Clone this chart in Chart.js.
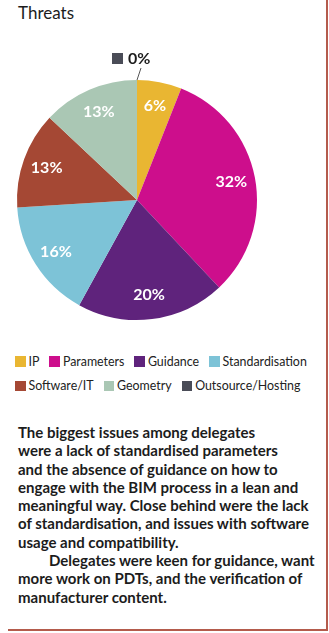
<!DOCTYPE html>
<html>
<head>
<meta charset="utf-8">
<title>Threats</title>
<script src="https://cdn.jsdelivr.net/npm/chart.js@4.4.0/dist/chart.umd.min.js"></script>
<style>
  body { margin: 0; background: #fff; }
  .panel { position: relative; width: 329px; height: 633px; overflow: hidden; font-family: Lato, 'Open Sans', sans-serif; color: #1c1c1c; }
  .edge-right { position: absolute; left: 326px; top: 0; width: 2px; height: 631px; background: #b45b4c; }
  .edge-bottom { position: absolute; left: 8px; top: 629px; width: 320px; height: 2px; background: #b45b4c; }
  .title { position: absolute; left: 18px; top: 4px; font-size: 17px; line-height: 17px; }
  .chart-box { position: absolute; left: 0; top: 0; width: 274px; height: 340px; }
  .legend { position: absolute; left: 15px; top: 349px; width: 312px; display: flex; flex-wrap: wrap; column-gap: 10px; font-size: 12.4px; color: #222; }
  .legend .item { display: flex; align-items: center; height: 24.5px; white-space: nowrap; }
  .legend .swatch { width: 10.5px; height: 10.5px; margin-right: 3px; }
  .notes { position: absolute; left: 18px; top: 423px; font-size: 15px; line-height: 18.3px; font-weight: 700; }
  .notes .indent { padding-left: 31px; }
</style>
</head>
<body>
<div class="panel">
  <div class="title">Threats</div>
  <div class="chart-box"><canvas id="threats-pie"></canvas></div>
  <div class="legend" id="threats-legend"></div>
  <div class="notes">
    The biggest issues among delegates<br>
    were a lack of standardised parameters<br>
    and the absence of guidance on how to<br>
    engage with the BIM process in a lean and<br>
    meaningful way. Close behind were the lack<br>
    of standardisation, and issues with software<br>
    usage and compatibility.<br>
    <span class="indent">Delegates were keen for guidance, want</span><br>
    more work on PDTs, and the verification of<br>
    manufacturer content.
  </div>
  <div class="edge-right"></div>
  <div class="edge-bottom"></div>
</div>

<script>
// Share of delegates naming each threat (%)
const categories = ['IP', 'Parameters', 'Guidance', 'Standardisation', 'Software/IT', 'Geometry', 'Outsource/Hosting'];
const shares = [6, 32, 20, 16, 13, 13, 0];
const sliceColors = ['#e9b632', '#cd0e8c', '#5f237c', '#7dc3d7', '#a54834', '#aac7b4', '#4a4c57'];

// Percent labels inside the slices; an empty slice gets a callout above the rim
const sliceLabels = {
    id: 'sliceLabels',
    afterDatasetsDraw(chart) {
        const ctx = chart.ctx;
        const meta = chart.getDatasetMeta(0);
        ctx.save();
        ctx.font = 'bold 16px Lato, sans-serif';
        ctx.textBaseline = 'middle';
        meta.data.forEach((arc, i) => {
            const p = arc.getProps(['x', 'y', 'startAngle', 'endAngle', 'outerRadius'], true);
            const value = shares[i];
            if (value === 0) {
                const rx = p.x + Math.cos(p.startAngle) * p.outerRadius;
                const ry = p.y + Math.sin(p.startAngle) * p.outerRadius;
                ctx.strokeStyle = '#555';
                ctx.lineWidth = 1;
                ctx.beginPath();
                ctx.moveTo(rx, ry);
                ctx.lineTo(rx + 4, ry - 12);
                ctx.stroke();
                ctx.fillStyle = sliceColors[i];
                ctx.fillRect(rx - 25, ry - 27, 11, 11);
                ctx.fillStyle = '#1c1c1c';
                ctx.textAlign = 'left';
                ctx.fillText(value + '%', rx - 9, ry - 21);
            } else {
                const mid = (p.startAngle + p.endAngle) / 2;
                const r = p.outerRadius * 0.8;
                ctx.fillStyle = '#fff';
                ctx.textAlign = 'center';
                ctx.fillText(value + '%', p.x + Math.cos(mid) * r, p.y + Math.sin(mid) * r);
            }
        });
        ctx.restore();
    }
};

function initThreatsChart() {
    const ctx = document.getElementById('threats-pie');
    if (!ctx) return;

    new Chart(ctx.getContext('2d'), {
        type: 'pie',
        data: {
            labels: categories,
            datasets: [{
                data: shares,
                backgroundColor: sliceColors,
                borderWidth: 0
            }]
        },
        options: {
            responsive: true,
            maintainAspectRatio: false,
            animation: false,
            layout: {
                padding: { top: 80, bottom: 20, left: 17, right: 17 }
            },
            plugins: {
                legend: { display: false },
                tooltip: { enabled: false }
            }
        },
        plugins: [sliceLabels]
    });
}

function buildLegend() {
    const box = document.getElementById('threats-legend');
    categories.forEach((name, i) => {
        const item = document.createElement('span');
        item.className = 'item';
        const swatch = document.createElement('span');
        swatch.className = 'swatch';
        swatch.style.background = sliceColors[i];
        item.appendChild(swatch);
        item.appendChild(document.createTextNode(name));
        box.appendChild(item);
    });
}

document.addEventListener('DOMContentLoaded', function() {
    initThreatsChart();
    buildLegend();
});
</script>
</body>
</html>
